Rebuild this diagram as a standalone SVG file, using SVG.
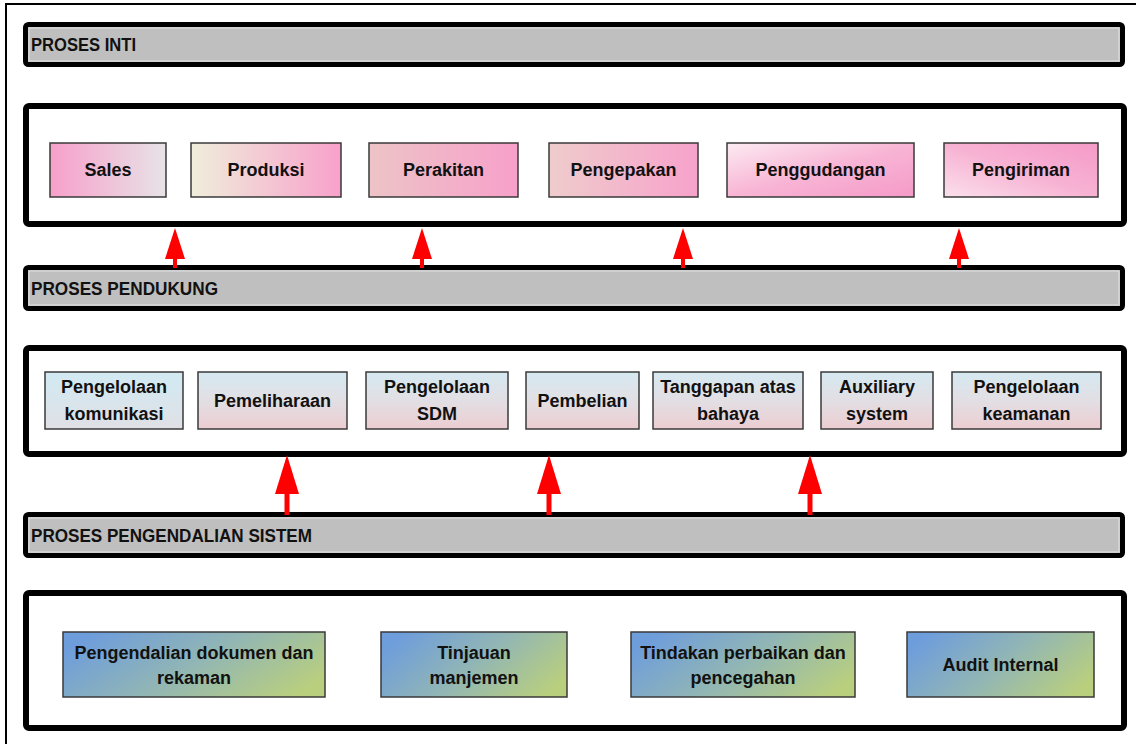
<svg xmlns="http://www.w3.org/2000/svg" width="1136" height="744" viewBox="0 0 1136 744">
<defs>
<style>
.frame{fill:#fff;stroke:#000;stroke-width:2}
.band{fill:#bfbfbf;stroke:#000;stroke-width:5}
.bandin{fill:none;stroke:#e2e2e2;stroke-width:1}
.box{fill:#fff;stroke:#000;stroke-width:6}
.node{stroke:#3a3a3a;stroke-width:1.5}
.bl{font-family:"Liberation Sans",Arial,sans-serif;font-weight:bold;font-size:19px;fill:#111}
.nt{font-family:"Liberation Sans",Arial,sans-serif;font-weight:bold;font-size:18px;fill:#111;text-anchor:middle}
.arr1{stroke:#f00;stroke-width:4;fill:none;marker-end:url(#h1)}
.arr2{stroke:#f00;stroke-width:5;fill:none;marker-end:url(#h2)}
</style>
<marker id="h1" markerUnits="userSpaceOnUse" viewBox="0 0 31 20" markerWidth="31" markerHeight="20" refX="0" refY="10" orient="auto"><path d="M0,0 L31,10 L0,20 z" fill="#f00"/></marker>
<marker id="h2" markerUnits="userSpaceOnUse" viewBox="0 0 39 24" markerWidth="39" markerHeight="24" refX="0" refY="12" orient="auto"><path d="M0,0 L39,12 L0,24 z" fill="#f00"/></marker>
<linearGradient id="gSales" x1="0" y1="0" x2="1" y2="0"><stop offset="0" stop-color="#f7a0ca"/><stop offset="1" stop-color="#e7e3e7"/></linearGradient>
<linearGradient id="gProd" x1="0" y1="0" x2="1" y2="0"><stop offset="0" stop-color="#efeedb"/><stop offset="1" stop-color="#f8a1cb"/></linearGradient>
<linearGradient id="gPera" x1="0" y1="0" x2="1" y2="0"><stop offset="0" stop-color="#edc4c7"/><stop offset="1" stop-color="#f7a0ca"/></linearGradient>
<linearGradient id="gPeng" x1="0" y1="0" x2="1" y2="0"><stop offset="0" stop-color="#efcccc"/><stop offset="1" stop-color="#f7a2cb"/></linearGradient>
<linearGradient id="gGud" x1="0" y1="0" x2="1" y2="1"><stop offset="0" stop-color="#fcebf2"/><stop offset="0.5" stop-color="#f8b5d5"/><stop offset="1" stop-color="#f59ac8"/></linearGradient>
<linearGradient id="gKir" x1="0" y1="1" x2="1" y2="0"><stop offset="0" stop-color="#fbe0ec"/><stop offset="0.5" stop-color="#f7b2d3"/><stop offset="1" stop-color="#f59ac8"/></linearGradient>
<linearGradient id="gSup" x1="0" y1="0" x2="0" y2="1"><stop offset="0" stop-color="#d6e9f1"/><stop offset="0.5" stop-color="#e2dfe4"/><stop offset="1" stop-color="#eccdd1"/></linearGradient>
<linearGradient id="gKom" x1="0" y1="0" x2="0" y2="1"><stop offset="0" stop-color="#d2eaf3"/><stop offset="1" stop-color="#dfe0e5"/></linearGradient>
<linearGradient id="gCtl" x1="0" y1="0.3" x2="1" y2="0.7"><stop offset="0" stop-color="#6e9ddc"/><stop offset="0.5" stop-color="#92b6b4"/><stop offset="1" stop-color="#b9cf7e"/></linearGradient>
</defs>

<rect class="frame" x="6" y="4" width="1140" height="760"/>

<g id="band-inti">
<rect class="band" x="25.5" y="24.5" width="1097" height="40" rx="3"/>
<rect class="bandin" x="29" y="28" width="1090" height="33"/>
<text class="bl" x="31" y="51" textLength="105" lengthAdjust="spacingAndGlyphs">PROSES INTI</text>
</g>

<g id="box-inti"><rect class="box" x="26" y="106" width="1098" height="118" rx="3"/></g>

<g id="n-sales"><rect class="node" x="50" y="143" width="116" height="54" fill="url(#gSales)"/><text class="nt" x="108" y="176">Sales</text></g>
<g id="n-produksi"><rect class="node" x="191" y="143" width="150" height="54" fill="url(#gProd)"/><text class="nt" x="266" y="176">Produksi</text></g>
<g id="n-perakitan"><rect class="node" x="369" y="143" width="149" height="54" fill="url(#gPera)"/><text class="nt" x="443.5" y="176">Perakitan</text></g>
<g id="n-pengepakan"><rect class="node" x="549" y="143" width="149" height="54" fill="url(#gPeng)"/><text class="nt" x="623.5" y="176">Pengepakan</text></g>
<g id="n-penggudangan"><rect class="node" x="727" y="143" width="187" height="54" fill="url(#gGud)"/><text class="nt" x="820.5" y="176">Penggudangan</text></g>
<g id="n-pengiriman"><rect class="node" x="944" y="143" width="154" height="54" fill="url(#gKir)"/><text class="nt" x="1021" y="176">Pengiriman</text></g>

<g id="band-pendukung">
<rect class="band" x="25.5" y="267.5" width="1097" height="41" rx="3"/>
<rect class="bandin" x="29" y="271" width="1090" height="34"/>
<text class="bl" x="31" y="295" textLength="187" lengthAdjust="spacingAndGlyphs">PROSES PENDUKUNG</text>
</g>

<g id="box-pendukung"><rect class="box" x="26" y="348" width="1098" height="106" rx="3"/></g>

<g id="n-komunikasi"><rect class="node" x="45" y="372" width="138" height="57" fill="url(#gKom)"/><text class="nt" x="114" y="393">Pengelolaan</text><text class="nt" x="114" y="420">komunikasi</text></g>
<g id="n-pemeliharaan"><rect class="node" x="198" y="372" width="149" height="57" fill="url(#gSup)"/><text class="nt" x="272.5" y="407">Pemeliharaan</text></g>
<g id="n-sdm"><rect class="node" x="366" y="372" width="142" height="57" fill="url(#gSup)"/><text class="nt" x="437" y="393">Pengelolaan</text><text class="nt" x="437" y="420">SDM</text></g>
<g id="n-pembelian"><rect class="node" x="526" y="372" width="113" height="57" fill="url(#gSup)"/><text class="nt" x="582.5" y="407">Pembelian</text></g>
<g id="n-bahaya"><rect class="node" x="653" y="372" width="150" height="57" fill="url(#gSup)"/><text class="nt" x="728" y="393">Tanggapan atas</text><text class="nt" x="728" y="420">bahaya</text></g>
<g id="n-auxiliary"><rect class="node" x="821" y="372" width="112" height="57" fill="url(#gSup)"/><text class="nt" x="877" y="393">Auxiliary</text><text class="nt" x="877" y="420">system</text></g>
<g id="n-keamanan"><rect class="node" x="952" y="372" width="149" height="57" fill="url(#gSup)"/><text class="nt" x="1026.5" y="393">Pengelolaan</text><text class="nt" x="1026.5" y="420">keamanan</text></g>

<g id="band-pengendalian">
<rect class="band" x="25.5" y="514.5" width="1097" height="41" rx="3"/>
<rect class="bandin" x="29" y="518" width="1090" height="34"/>
<text class="bl" x="31" y="542" textLength="281" lengthAdjust="spacingAndGlyphs">PROSES PENGENDALIAN SISTEM</text>
</g>

<g id="box-pengendalian"><rect class="box" x="26" y="593" width="1098" height="135" rx="3"/></g>

<g id="n-dokumen"><rect class="node" x="63" y="632" width="262" height="65" fill="url(#gCtl)"/><text class="nt" x="194" y="659">Pengendalian dokumen dan</text><text class="nt" x="194" y="684">rekaman</text></g>
<g id="n-tinjauan"><rect class="node" x="381" y="632" width="186" height="65" fill="url(#gCtl)"/><text class="nt" x="474" y="659">Tinjauan</text><text class="nt" x="474" y="684">manjemen</text></g>
<g id="n-tindakan"><rect class="node" x="631" y="632" width="224" height="65" fill="url(#gCtl)"/><text class="nt" x="743" y="659">Tindakan perbaikan dan</text><text class="nt" x="743" y="684">pencegahan</text></g>
<g id="n-audit"><rect class="node" x="907" y="632" width="187" height="65" fill="url(#gCtl)"/><text class="nt" x="1000.5" y="671">Audit Internal</text></g>

<g id="connectors">
<line class="arr1" x1="175" y1="268" x2="175" y2="259"/>
<line class="arr1" x1="422" y1="268" x2="422" y2="259"/>
<line class="arr1" x1="683" y1="268" x2="683" y2="259"/>
<line class="arr1" x1="959" y1="268" x2="959" y2="259"/>
<line class="arr2" x1="287" y1="515" x2="287" y2="494"/>
<line class="arr2" x1="549" y1="515" x2="549" y2="494"/>
<line class="arr2" x1="810" y1="515" x2="810" y2="494"/>
</g>
</svg>
